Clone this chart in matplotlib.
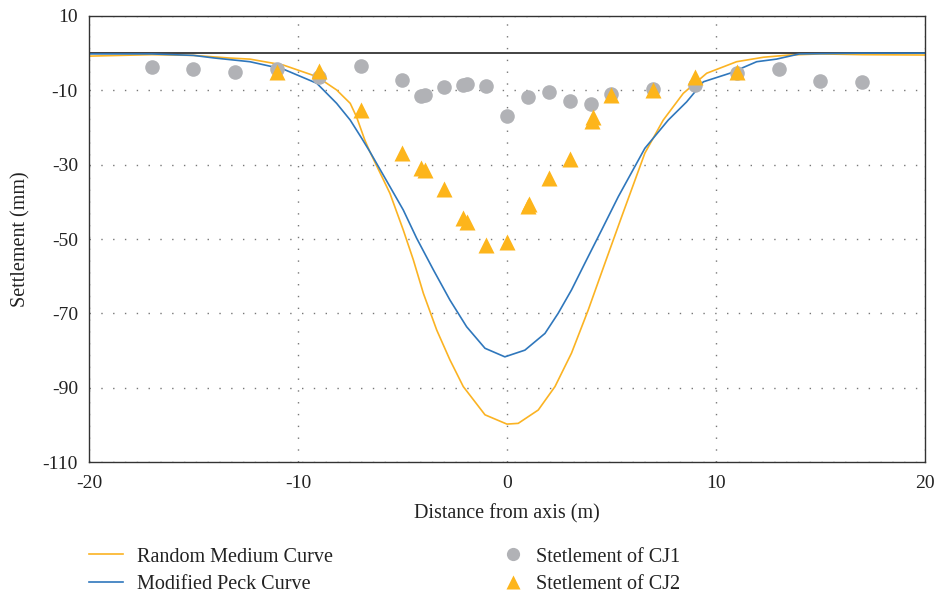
import matplotlib
matplotlib.use("Agg")
import matplotlib.pyplot as plt
from matplotlib.lines import Line2D

plt.rcParams['font.family'] = ['Liberation Serif', 'DejaVu Serif']
plt.rcParams['axes.unicode_minus'] = False

# random medium prediction
medium_x = [-20, -17, -15, -13.3, -12.3, -10.7, -9.1, -8.15, -7.5, -7.2, -6.8, -6.56, -5.6, -4.96,
            -4.48, -4.0, -3.36, -2.73, -2.09, -1.05, 0.0, 0.54, 1.5, 2.3, 3.09, 3.89, 4.69, 5.49,
            6.6, 7.48, 8.44, 9.56, 10.99, 12.27, 13.5, 15, 17, 20]
medium_y = [-0.8, -0.4, -0.6, -1.3, -1.6, -3.2, -6.3, -9.9, -13.5, -17.1, -23.4, -26.5, -37.7, -47.6,
            -55.6, -64.6, -74.5, -82.5, -89.7, -97.3, -99.8, -99.6, -96.0, -89.7, -80.7, -69.1, -56.5, -44.0,
            -26.9, -18.0, -10.8, -5.4, -2.3, -1.1, -0.5, -0.2, -0.4, -0.5]

# modified peck prediction
peck_x = [-20, -17, -15, -14, -12.3, -10.7, -9.1, -8.15, -7.5, -6.95, -6.56, -5.6, -4.96, -4.32,
          -3.52, -2.73, -1.93, -1.05, -0.1, 0.86, 1.82, 2.45, 3.09, 3.73, 4.53, 5.33, 6.6, 7.72,
          8.6, 9.4, 10.67, 11.95, 12.9, 14, 17, 20]
peck_y = [-0.2, -0.2, -0.6, -1.3, -2.3, -4.3, -8.1, -13.5, -18.0, -22.9, -26.5, -35.9, -42.2, -49.8,
          -58.3, -66.4, -73.6, -79.4, -81.7, -79.9, -75.4, -70.0, -63.7, -56.5, -47.6, -38.6, -25.6, -18.0,
          -13.1, -7.7, -5.4, -2.3, -1.6, -0.2, 0.0, 0.0]

# measured settlement
cj1_x = [-17, -15, -13, -11, -9, -7, -5, -4.1, -3.9, -3, -2.1, -1.9, -1, 0, 1, 2, 3, 4, 5, 7, 9, 11, 13, 15, 17]
cj1_y = [-3.7, -4.3, -5.1, -4.3, -6.4, -3.5, -7.2, -11.5, -11.2, -9.1, -8.5, -8.2, -8.8, -17.0,
         -11.8, -10.4, -12.9, -13.7, -11.0, -9.7, -8.6, -5.3, -4.3, -7.5, -7.8]

cj2_x = [-11, -9, -7, -5, -4.1, -3.9, -3, -2.1, -1.9, -1, 0, 1.05, 1.0, 2, 3, 4.1, 4.05, 5, 7, 9, 11]
cj2_y = [-5.1, -4.8, -15.3, -26.9, -31.0, -31.4, -36.5, -44.4, -45.3, -51.6, -50.8, -40.6, -41.2,
         -33.6, -28.5, -17.2, -18.2, -11.3, -9.8, -6.3, -5.0]

yellow = '#FBB323'
blue = '#2F77BC'
gray = '#B1B2B6'
orange = '#FDB51B'
txt = '#222222'

fig = plt.figure(figsize=(9.36, 5.97), dpi=100)
ax = fig.add_axes([0.0951, 0.2261, 0.893, 0.7471])

ax.axhline(0, color='#222222', lw=1.2, zorder=1.5)
ax.plot(medium_x, medium_y, color=yellow, lw=1.2, zorder=2)
ax.plot(peck_x, peck_y, color=blue, lw=1.2, zorder=2)
ax.plot(cj1_x, cj1_y, 'o', color=gray, ms=10.5, mec='none', zorder=3)
ax.plot(cj2_x, cj2_y, '^', color=orange, ms=11, mec='none', zorder=4)

ax.set_xlim(-20, 20)
ax.set_ylim(-110, 10)
ax.set_xticks([-20, -10, 0, 10, 20])
ax.set_yticks([10, -10, -30, -50, -70, -90, -110])
ax.grid(True, color='#777777', lw=1.0, linestyle=(0, (1, 7.5)))
ax.tick_params(length=0, labelsize=14, colors=txt)
ax.tick_params(axis='y', pad=8)
ax.tick_params(axis='x', pad=9)
for s in ax.spines.values():
    s.set_color('#333333')
    s.set_linewidth(1.0)

ax.set_xlabel("Distance from axis (m)", fontsize=14.5, color=txt, labelpad=9)
ax.set_ylabel("Settlement (mm)", fontsize=14.5, color=txt, labelpad=9)

h1 = [Line2D([], [], color=yellow, lw=1.2), Line2D([], [], color=blue, lw=1.2)]
leg1 = fig.legend(h1, ["Random Medium Curve", "Modified Peck Curve"], loc='upper left',
                  bbox_to_anchor=(0.0951, 0.083), frameon=False, fontsize=14.5,
                  handlelength=1.68, handletextpad=0.7, labelspacing=0.42, borderpad=0,
                  borderaxespad=0)
h2 = [Line2D([], [], ls='none', marker='o', color=gray, ms=9.5, mec='none'),
      Line2D([], [], ls='none', marker='^', color=orange, ms=10, mec='none')]
leg2 = fig.legend(h2, ["Stetlement of CJ1", "Stetlement of CJ2"], loc='upper left',
                  bbox_to_anchor=(0.537, 0.083), frameon=False, fontsize=14.5,
                  handlelength=1.0, handletextpad=0.68, labelspacing=0.42, borderpad=0,
                  borderaxespad=0)
for leg in (leg1, leg2):
    for t in leg.get_texts():
        t.set_color(txt)

fig.savefig("out.png", dpi=100)
